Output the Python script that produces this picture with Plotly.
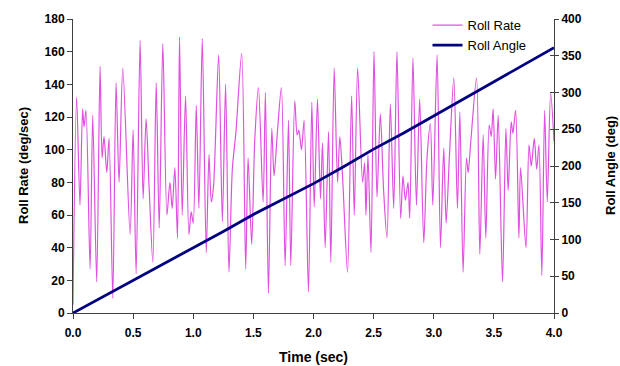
import plotly.graph_objects as go

# Roll rate (deg/sec) read at its turning points
rate_time = [0.000, 0.030, 0.058, 0.080, 0.092, 0.108, 0.142, 0.164, 0.197, 0.225,
             0.242, 0.258, 0.281, 0.300, 0.331, 0.358, 0.383, 0.414, 0.475, 0.500,
             0.525, 0.558, 0.583, 0.608, 0.633, 0.664, 0.692, 0.717, 0.747, 0.781,
             0.806, 0.825, 0.847, 0.869, 0.886, 0.908, 0.936, 0.964, 0.983, 1.000,
             1.025, 1.047, 1.075, 1.108, 1.131, 1.150, 1.169, 1.211, 1.242, 1.269,
             1.297, 1.325, 1.355, 1.403, 1.436, 1.456, 1.486, 1.511, 1.542, 1.581,
             1.600, 1.625, 1.653, 1.672, 1.700, 1.733, 1.764, 1.792, 1.811, 1.844,
             1.864, 1.878, 1.900, 1.922, 1.958, 1.986, 2.006, 2.033, 2.058, 2.075,
             2.097, 2.125, 2.144, 2.172, 2.200, 2.219, 2.242, 2.283, 2.317, 2.339,
             2.367, 2.408, 2.425, 2.436, 2.453, 2.478, 2.503, 2.528, 2.556, 2.583,
             2.611, 2.639, 2.667, 2.694, 2.725, 2.744, 2.764, 2.786, 2.800, 2.827,
             2.856, 2.883, 2.917, 2.944, 2.972, 2.992, 3.028, 3.056, 3.083, 3.103,
             3.131, 3.167, 3.197, 3.217, 3.244, 3.272, 3.286, 3.308, 3.356, 3.383,
             3.411, 3.433, 3.461, 3.478, 3.494, 3.514, 3.536, 3.572, 3.600, 3.619,
             3.644, 3.658, 3.681, 3.708, 3.722, 3.767, 3.792, 3.811, 3.836, 3.856,
             3.875, 3.899, 3.922, 3.944, 3.972, 4.000]
rate_value = [5, 132, 66, 125, 114, 124, 27, 121, 19, 151,
              95, 108, 86, 107, 9, 141, 80, 150, 48, 112,
              24, 167, 70, 119, 77, 31, 141, 52, 165, 60,
              80, 64, 89, 46, 169, 60, 133, 48, 62, 55,
              127, 64, 168, 37, 97, 68, 78, 158, 56, 140,
              25, 88, 111, 159, 27, 95, 42, 105, 138, 68,
              135, 12, 113, 84, 111, 138, 29, 118, 29, 130,
              109, 112, 100, 118, 13, 129, 65, 131, 70, 104,
              40, 111, 31, 150, 80, 108, 83, 25, 133, 60,
              150, 80, 92, 60, 97, 37, 160, 71, 122, 75,
              46, 128, 64, 160, 58, 84, 69, 80, 58, 156,
              66, 131, 43, 95, 116, 66, 158, 40, 101, 55,
              97, 144, 64, 123, 25, 95, 86, 105, 144, 36,
              109, 46, 115, 108, 125, 82, 121, 19, 113, 75,
              117, 110, 124, 46, 89, 40, 103, 90, 107, 88,
              103, 23, 124, 68, 135, 105]

# Roll angle (deg)
angle_time = [0.0, 0.25, 0.5, 0.75, 1.0, 1.25, 1.5, 1.75, 2.0, 2.25,
              2.5, 2.75, 3.0, 3.25, 3.5, 3.75, 4.0]
angle_value = [0, 22, 44, 67, 89, 111, 134, 155, 176, 199,
               223, 245, 268, 291, 314, 337, 361]

x_ticks = [0.0, 0.5, 1.0, 1.5, 2.0, 2.5, 3.0, 3.5, 4.0]
rate_ticks = list(range(0, 181, 20))
angle_ticks = list(range(0, 401, 50))

FONT = "Liberation Sans, Arial, sans-serif"
AX = "#404040"
tickfont = dict(family=FONT, size=12, color="black", weight="bold")
titlefont = dict(family=FONT, size=13, color="black", weight="bold")
xtitlefont = dict(family=FONT, size=14, color="black", weight="bold")

fig = go.Figure()
fig.add_trace(go.Scatter(x=rate_time, y=rate_value, name="Roll Rate", mode="lines",
                         line=dict(color="#E050E0", width=1.2, shape="spline", smoothing=0.8),
                         yaxis="y"))
fig.add_trace(go.Scatter(x=angle_time, y=angle_value, name="Roll Angle", mode="lines",
                         line=dict(color="#000080", width=2.8), yaxis="y2"))
fig.add_trace(go.Scatter(x=[None], y=[None], showlegend=False, hoverinfo="skip", yaxis="y3"))

common = dict(showgrid=False, zeroline=False, automargin=False, tickcolor=AX)

fig.update_layout(
    width=620, height=366,
    margin=dict(l=73, r=66, t=19, b=53, autoexpand=False),
    paper_bgcolor="white", plot_bgcolor="white",
    showlegend=True,
    legend=dict(x=0.737, y=1.03, xanchor="left", yanchor="top",
                bgcolor="rgba(0,0,0,0)", font=dict(family=FONT, size=13, color="black"),
                tracegroupgap=0),
    xaxis=dict(range=[0, 4], tickvals=x_ticks, tickformat=".1f",
               ticks="outside", ticklen=5, showline=True, linecolor=AX,
               tickfont=tickfont, ticklabelstandoff=4, **common),
    yaxis=dict(range=[0, 180], tickvals=rate_ticks,
               ticks="outside", ticklen=5, showline=True, linecolor=AX,
               tickfont=tickfont, **common),
    yaxis2=dict(range=[0, 400], tickvals=angle_ticks, overlaying="y", side="right",
                ticks="outside", ticklen=4, showline=True, linecolor=AX,
                tickfont=tickfont, **common),
    yaxis3=dict(range=[0, 400], tickvals=angle_ticks, overlaying="y", side="right",
                ticks="inside", ticklen=4, showline=False, showticklabels=False, **common),
    annotations=[
        dict(text="Time (sec)", x=0.5, y=0, xref="paper", yref="paper",
             xanchor="center", yanchor="middle", yshift=-44, showarrow=False, font=xtitlefont),
        dict(text="Roll Rate (deg/sec)", x=0, y=0.5, xref="paper", yref="paper",
             xanchor="center", yanchor="middle", xshift=-50, textangle=-90,
             showarrow=False, font=titlefont),
        dict(text="Roll Angle (deg)", x=1, y=0.5, xref="paper", yref="paper",
             xanchor="center", yanchor="middle", xshift=56, textangle=-90,
             showarrow=False, font=titlefont),
    ],
)

fig.write_html("out.html")
